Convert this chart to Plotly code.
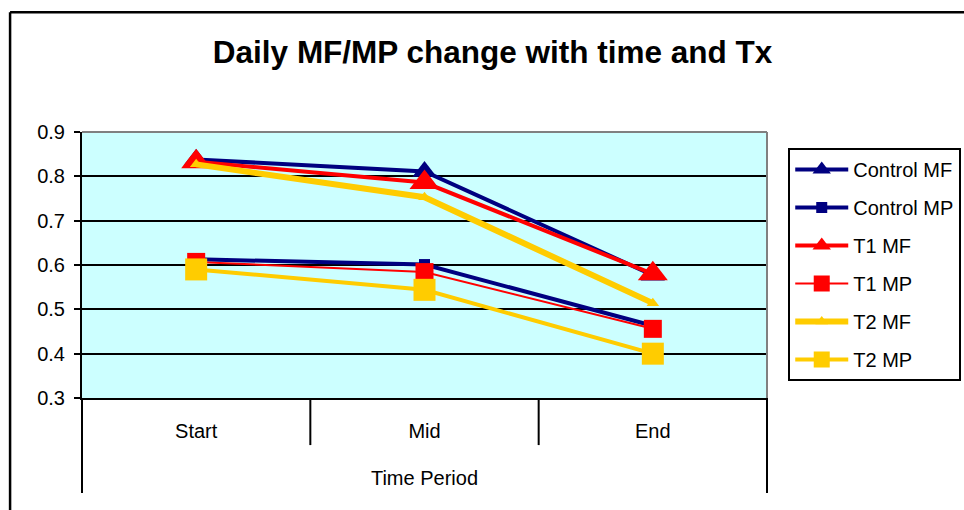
import plotly.graph_objects as go

# Time periods and daily MF/MP readings per treatment
periods = ["Start", "Mid", "End"]
axis_group = "Time Period"

control_mf = [0.838, 0.811, 0.577]
control_mp = [0.613, 0.601, 0.463]
t1_mf = [0.833, 0.786, 0.580]
t1_mp = [0.607, 0.584, 0.456]
t2_mf = [0.827, 0.753, 0.514]
t2_mp = [0.590, 0.544, 0.400]

y_ticks = [0.3, 0.4, 0.5, 0.6, 0.7, 0.8, 0.9]

NAVY = "#000080"
RED = "#FF0000"
GOLD = "#FFCC00"
FONT = "Liberation Sans, Arial, sans-serif"

series = [
    ("Control MF", control_mf, NAVY, 4, "triangle-up", 21),
    ("Control MP", control_mp, NAVY, 4, "square", 11),
    ("T1 MF", t1_mf, RED, 4, "triangle-up", 26),
    ("T1 MP", t1_mp, RED, 2, "square", 18),
    ("T2 MF", t2_mf, GOLD, 6, "triangle-up", 11),
    ("T2 MP", t2_mp, GOLD, 4, "square", 22),
]

fig = go.Figure()
for name, vals, color, width, symbol, size in series:
    fig.add_trace(go.Scatter(
        x=periods, y=vals, name=name, mode="lines+markers",
        legendgroup=name,
        line=dict(color=color, width=width),
        marker=dict(symbol=symbol, size=size, color=color, line=dict(width=0)),
    ))

# Separators under the category labels: short ones between periods,
# long ones at the two ends enclosing the axis title as well
n = len(periods)
shapes = []
for b in range(n + 1):
    edge = b in (0, n)
    shapes.append(dict(type="line", xref="paper", yref="paper",
                       x0=b / n, x1=b / n, y0=0, y1=-0.357 if edge else -0.177,
                       line=dict(color="black", width=2)))
# Grey top and right border of the plot area
shapes.append(dict(type="line", xref="paper", yref="paper", x0=0, x1=1, y0=1, y1=1,
                   line=dict(color="#808080", width=2)))
shapes.append(dict(type="line", xref="paper", yref="paper", x0=1, x1=1, y0=0, y1=1,
                   line=dict(color="#808080", width=2)))
# Chart area frame
shapes.append(dict(type="line", xref="paper", yref="paper", x0=-0.105, x1=1.6, y0=1.45, y1=1.45,
                   line=dict(color="black", width=2.5)))
shapes.append(dict(type="line", xref="paper", yref="paper", x0=-0.105, x1=-0.105, y0=1.45, y1=-0.7,
                   line=dict(color="black", width=2.5)))

fig.update_layout(
    width=964, height=510,
    margin=dict(l=82, r=197, t=132, b=112, autoexpand=False),
    paper_bgcolor="white",
    plot_bgcolor="#CCFFFF",
    font=dict(family=FONT, size=20, color="black"),
    title=dict(text="<b>Daily MF/MP change with time and Tx</b>",
               font=dict(family=FONT, size=31.5, color="black"),
               x=0.511, xref="container", xanchor="center",
               y=1 - 52 / 510, yref="container", yanchor="middle"),
    xaxis=dict(type="category", categoryorder="array", categoryarray=periods,
               range=[-0.5, n - 0.5], showgrid=False, zeroline=False,
               showline=True, linecolor="black", linewidth=2,
               ticks="", ticklabelstandoff=14,
               tickfont=dict(family=FONT, size=20),
               title=dict(text=axis_group, standoff=30, font=dict(family=FONT, size=20))),
    yaxis=dict(range=[0.3, 0.9], tickvals=y_ticks, ticktext=[f"{v:.1f}" for v in y_ticks],
               showgrid=True, gridcolor="black", gridwidth=2,
               zeroline=False, showline=True, linecolor="black", linewidth=2,
               ticks="outside", ticklen=6, tickcolor="black", tickwidth=2,
               ticklabelstandoff=5, tickfont=dict(family=FONT, size=20)),
    legend=dict(x=1.031, y=0.94, xanchor="left", yanchor="top",
                traceorder="grouped", tracegroupgap=9, itemwidth=53,
                bgcolor="white", bordercolor="black", borderwidth=2,
                font=dict(family=FONT, size=20)),
    shapes=shapes,
)

fig.write_html("out.html")
